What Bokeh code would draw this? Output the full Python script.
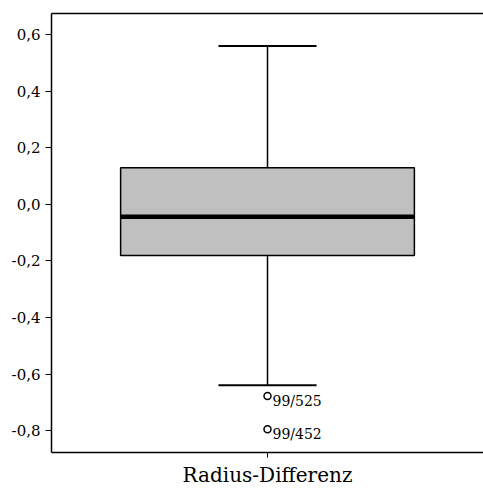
from bokeh.plotting import figure
from bokeh.models import FactorRange, Range1d, FixedTicker, LinearAxis, ColumnDataSource
from bokeh.core.properties import value
from bokeh.embed import file_html
from bokeh.resources import INLINE

# ---- data ----
category = ["Radius-Differenz"]
whisker_high = [0.559]
q3 = [0.129]
median = [-0.044]
q1 = [-0.181]
whisker_low = [-0.639]
outlier_values = [-0.677, -0.795]
outlier_labels = ["99/525", "99/452"]
y_ticks = [-0.8, -0.6, -0.4, -0.2, 0.0, 0.2, 0.4, 0.6]
y_tick_labels = ["-0,8", "-0,6", "-0,4", "-0,2", "0,0", "0,2", "0,4", "0,6"]

FONT = "DejaVu Serif"
BOX_W = 0.68
CAP_W = 0.227

cat = category[0]
p = figure(width=483, height=489, x_range=FactorRange(factors=category, range_padding=0),
           y_range=Range1d(-0.877, 0.674), output_backend="svg", toolbar_location=None,
           min_border_left=51, min_border_right=0, min_border_top=13, min_border_bottom=34)
p.outline_line_color = None
p.xgrid.grid_line_color = None
p.ygrid.grid_line_color = None
p.background_fill_color = "white"
p.border_fill_color = "white"

# whiskers
p.segment(x0=category, x1=category, y0=q3, y1=whisker_high, line_color="black", line_width=1.5)
p.segment(x0=category, x1=category, y0=q1, y1=whisker_low, line_color="black", line_width=1.5)
p.segment(x0=[(cat, -CAP_W / 2)], x1=[(cat, CAP_W / 2)], y0=whisker_high, y1=whisker_high,
          line_color="black", line_width=2)
p.segment(x0=[(cat, -CAP_W / 2)], x1=[(cat, CAP_W / 2)], y0=whisker_low, y1=whisker_low,
          line_color="black", line_width=2)
# box
p.vbar(x=category, top=q3, bottom=q1, width=BOX_W, fill_color="#c0c0c0",
       line_color="black", line_width=1.5)
# median
p.segment(x0=[(cat, -BOX_W / 2)], x1=[(cat, BOX_W / 2)], y0=median, y1=median,
          line_color="black", line_width=4.5)

# outliers
src = ColumnDataSource(dict(x=[cat] * len(outlier_values), y=outlier_values, t=outlier_labels))
p.scatter(x="x", y="y", source=src, marker="circle", size=7, fill_color="white",
          line_color="black", line_width=1.5)
p.text(x="x", y="y", text="t", source=src, x_offset=5, y_offset=5, text_baseline="middle",
       text_align="left", text_font=value(FONT), text_font_size="14px", text_color="black")

# y axis
ya = p.yaxis[0]
ya.ticker = FixedTicker(ticks=y_ticks)
ya.major_label_overrides = {t: l for t, l in zip(y_ticks, y_tick_labels)}
ya.minor_tick_line_color = None
ya.major_tick_out = 6
ya.major_tick_in = 0
ya.major_label_standoff = 5
ya.axis_line_width = 1.5
ya.major_tick_line_width = 1
ya.major_label_text_font = FONT
ya.major_label_text_font_size = "15px"
ya.major_label_text_color = "black"

# x axis
xa = p.xaxis[0]
xa.major_tick_out = 5
xa.major_tick_in = 0
xa.major_label_standoff = 5
xa.axis_line_width = 1.5
xa.major_label_text_font = FONT
xa.major_label_text_font_size = "20px"
xa.major_label_text_color = "black"

# top frame line
top = LinearAxis(ticker=FixedTicker(ticks=[]), axis_line_width=1.5, major_tick_out=0,
                 major_tick_in=0, minor_tick_out=0, minor_tick_in=0, major_label_standoff=0)
p.add_layout(top, "above")

open("out.html", "w").write(file_html(p, INLINE))
